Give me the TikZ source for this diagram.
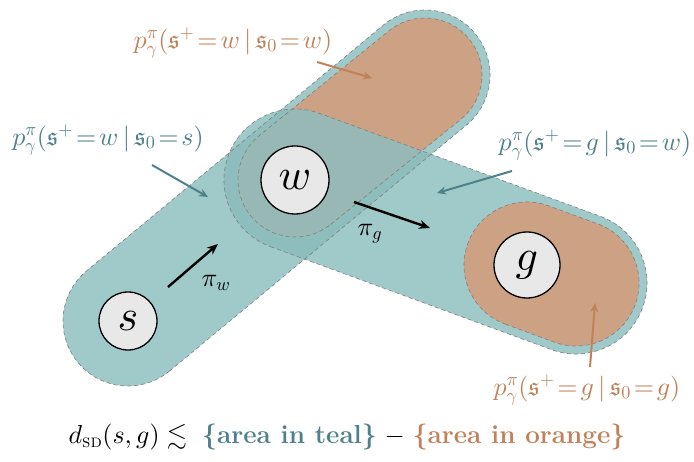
\documentclass[tikz,border=0pt]{standalone}
\DeclareFontFamily{OML}{cmm}{\skewchar\font'177}
\DeclareFontShape{OML}{cmm}{m}{it}{<->cmmi10}{}
\DeclareFontShape{OML}{cmm}{b}{it}{<->cmmib10}{}
\DeclareFontFamily{OMS}{cmsy}{\skewchar\font'60}
\DeclareFontShape{OMS}{cmsy}{m}{n}{<->cmsy10}{}
\DeclareFontFamily{OT1}{cmr}{\hyphenchar\font45}
\DeclareFontShape{OT1}{cmr}{m}{n}{<->cmr10}{}
\DeclareFontShape{OT1}{cmr}{bx}{n}{<->cmbx10}{}
\usepackage{amsmath,amssymb}
\usetikzlibrary{calc,arrows.meta}
\definecolor{tealA}{HTML}{A0C9C9}
\definecolor{tealO}{HTML}{8DBDBD}
\definecolor{tealG}{HTML}{97B8B4}
\definecolor{orangeF}{HTML}{CDA183}
\definecolor{tealT}{HTML}{4E8189}
\definecolor{orangeT}{HTML}{C0825A}
\definecolor{nodeF}{HTML}{E8E8E8}
\newcommand\capsulepath[3]{let \p1=(#1), \p2=(#2), \n1={atan2(\y2-\y1,\x2-\x1)} in ($(\p1)+(\n1-90:#3)$) -- ($(\p2)+(\n1-90:#3)$) arc[start angle=\n1-90, end angle=\n1+90, radius=#3] -- ($(\p1)+(\n1+90:#3)$) arc[start angle=\n1+90, end angle=\n1+270, radius=#3] -- cycle}
\newcommand\plabel[2]{$p^{\pi}_{\gamma}(\mathfrak{s}^{+}\!=\!#1\,|\,\mathfrak{s}_0\!=\!#2)$}
\tikzset{
  outline/.style={draw=black!50, line width=0.6pt, dash pattern=on 4pt off 3pt},
  statenode/.style={circle, draw=black, line width=1.3pt, fill=nodeF, inner sep=0pt, font=\fontsize{44}{50}\selectfont},
  polarrow/.style={line width=2.4pt, -{Stealth[length=11pt,width=9pt]}},
  labtext/.style={font=\fontsize{26}{30}\selectfont, inner sep=0pt},
  labarrow/.style={line width=2pt, -{Stealth[length=9pt,width=8pt]}},
}
\begin{document}
\begin{tikzpicture}[x=1pt,y=1pt]
\useasboundingbox (0,0) rectangle (694,461);
\coordinate (cs) at (128,140);
\coordinate (cw) at (295,281);
\coordinate (cg) at (527,196);
\coordinate (cEA) at (425,386);
\coordinate (cEB) at (576,178);
% teal capsules
\fill[tealA] \capsulepath{cs}{cEA}{65pt};
\fill[tealA] \capsulepath{cw}{cEB}{71pt};
\begin{scope}
  \clip \capsulepath{cs}{cEA}{65pt};
  \fill[tealO] \capsulepath{cw}{cEB}{71pt};
\end{scope}
% orange inner region of upper capsule
\begin{scope}
  \clip \capsulepath{cw}{cEA}{57pt};
  \fill[orangeF] (0,0) rectangle (694,461);
  \fill[tealG] \capsulepath{cw}{cEB}{71pt};
\end{scope}
% orange inner region around g
\fill[orangeF] \capsulepath{cg}{cEB}{63pt};
% dashed outlines
\draw[outline] \capsulepath{cs}{cEA}{65pt};
\draw[outline] \capsulepath{cw}{cEB}{71pt};
\draw[outline] \capsulepath{cw}{cEA}{57pt};
\draw[outline] \capsulepath{cg}{cEB}{63pt};
% state nodes
\node[statenode, minimum size=58pt] (s) at (cs) {$s$};
\node[statenode, minimum size=68pt] (w) at (cw) {$w$};
\node[statenode, minimum size=66pt] (g) at (cg) {$g$};
% policy arrows
\coordinate (pw1) at (168,174);
\coordinate (pw2) at (218,217);
\draw[polarrow] (pw1) -- (pw2);
\node[labtext] (piw) at (216,178) {$\pi_w$};
\coordinate (pg1) at (354,259);
\coordinate (pg2) at (430,233);
\draw[polarrow] (pg1) -- (pg2);
\node[labtext] (pig) at (370,227) {$\pi_g$};
% labels
\node[labtext, text=orangeT] (l1) at (233,418) {\plabel{w}{w}};
\coordinate (l1a) at (317,399);
\coordinate (l1b) at (372,383);
\draw[labarrow, orangeT] (l1a) -- (l1b);
\node[labtext, text=tealT] (l2) at (108,321) {\plabel{w}{s}};
\coordinate (l2a) at (152,296);
\coordinate (l2b) at (208,264);
\draw[labarrow, tealT] (l2a) -- (l2b);
\node[labtext, text=tealT] (l3) at (595,316) {\plabel{g}{w}};
\coordinate (l3a) at (512,290);
\coordinate (l3b) at (437,268);
\draw[labarrow, tealT] (l3a) -- (l3b);
\node[labtext, text=orangeT] (l4) at (587,71) {\plabel{g}{g}};
\coordinate (l4a) at (590,94);
\coordinate (l4b) at (595,158);
\draw[labarrow, orangeT] (l4a) -- (l4b);
% formula
\node[labtext] (f) at (347,24) {$d_{\text{\textsc{sd}}}(s,g)\lesssim{}$ \textcolor{tealT}{\textbf{\{area in teal\}}} $-$ \textcolor{orangeT}{\textbf{\{area in orange\}}}};
\end{tikzpicture}
\end{document}
